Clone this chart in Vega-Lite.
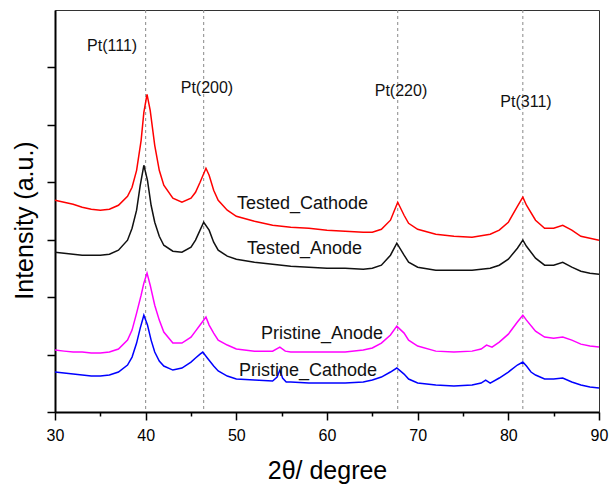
{
  "$schema": "https://vega.github.io/schema/vega-lite/v6.json",
  "width": 544,
  "height": 402,
  "autosize": "none",
  "padding": {"left": 55, "top": 10, "right": 10, "bottom": 72},
  "background": "white",
  "config": {"view": {"stroke": "#333333", "strokeWidth": 1}, "font": "Liberation Sans"},
  "datasets": {
    "xrd": [
      {"s":"Tested_Cathode","x":30,"y":1.843},{"s":"Tested_Cathode","x":31,"y":1.826},{"s":"Tested_Cathode","x":32,"y":1.809},{"s":"Tested_Cathode","x":33,"y":1.783},{"s":"Tested_Cathode","x":34,"y":1.765},{"s":"Tested_Cathode","x":35,"y":1.757},{"s":"Tested_Cathode","x":36,"y":1.765},{"s":"Tested_Cathode","x":37,"y":1.8},{"s":"Tested_Cathode","x":38,"y":1.878},{"s":"Tested_Cathode","x":38.5,"y":1.957},{"s":"Tested_Cathode","x":39,"y":2.104},{"s":"Tested_Cathode","x":39.5,"y":2.365},{"s":"Tested_Cathode","x":39.8,"y":2.609},{"s":"Tested_Cathode","x":40.15,"y":2.765},{"s":"Tested_Cathode","x":40.5,"y":2.626},{"s":"Tested_Cathode","x":41,"y":2.322},{"s":"Tested_Cathode","x":41.5,"y":2.104},{"s":"Tested_Cathode","x":42,"y":1.974},{"s":"Tested_Cathode","x":43,"y":1.861},{"s":"Tested_Cathode","x":44,"y":1.826},{"s":"Tested_Cathode","x":45,"y":1.861},{"s":"Tested_Cathode","x":45.5,"y":1.913},{"s":"Tested_Cathode","x":46,"y":2.0},{"s":"Tested_Cathode","x":46.65,"y":2.122},{"s":"Tested_Cathode","x":47,"y":2.061},{"s":"Tested_Cathode","x":47.5,"y":1.93},{"s":"Tested_Cathode","x":48,"y":1.843},{"s":"Tested_Cathode","x":49,"y":1.757},{"s":"Tested_Cathode","x":50,"y":1.704},{"s":"Tested_Cathode","x":52,"y":1.661},{"s":"Tested_Cathode","x":54,"y":1.626},{"s":"Tested_Cathode","x":56,"y":1.609},{"s":"Tested_Cathode","x":58,"y":1.6},{"s":"Tested_Cathode","x":60,"y":1.583},{"s":"Tested_Cathode","x":62,"y":1.574},{"s":"Tested_Cathode","x":64,"y":1.565},{"s":"Tested_Cathode","x":65,"y":1.565},{"s":"Tested_Cathode","x":66,"y":1.591},{"s":"Tested_Cathode","x":67,"y":1.67},{"s":"Tested_Cathode","x":67.8,"y":1.826},{"s":"Tested_Cathode","x":68.5,"y":1.713},{"s":"Tested_Cathode","x":69,"y":1.643},{"s":"Tested_Cathode","x":70,"y":1.591},{"s":"Tested_Cathode","x":72,"y":1.548},{"s":"Tested_Cathode","x":74,"y":1.53},{"s":"Tested_Cathode","x":76,"y":1.522},{"s":"Tested_Cathode","x":78,"y":1.548},{"s":"Tested_Cathode","x":79,"y":1.583},{"s":"Tested_Cathode","x":80,"y":1.652},{"s":"Tested_Cathode","x":81,"y":1.791},{"s":"Tested_Cathode","x":81.6,"y":1.87},{"s":"Tested_Cathode","x":82,"y":1.8},{"s":"Tested_Cathode","x":83,"y":1.67},{"s":"Tested_Cathode","x":84,"y":1.6},{"s":"Tested_Cathode","x":85,"y":1.6},{"s":"Tested_Cathode","x":86,"y":1.626},{"s":"Tested_Cathode","x":87,"y":1.583},{"s":"Tested_Cathode","x":88,"y":1.53},{"s":"Tested_Cathode","x":89,"y":1.513},{"s":"Tested_Cathode","x":90,"y":1.496},
      {"s":"Tested_Anode","x":30,"y":1.391},{"s":"Tested_Anode","x":31,"y":1.383},{"s":"Tested_Anode","x":32,"y":1.374},{"s":"Tested_Anode","x":33,"y":1.365},{"s":"Tested_Anode","x":34,"y":1.365},{"s":"Tested_Anode","x":35,"y":1.365},{"s":"Tested_Anode","x":36,"y":1.374},{"s":"Tested_Anode","x":37,"y":1.409},{"s":"Tested_Anode","x":38,"y":1.496},{"s":"Tested_Anode","x":38.5,"y":1.6},{"s":"Tested_Anode","x":39,"y":1.757},{"s":"Tested_Anode","x":39.4,"y":1.974},{"s":"Tested_Anode","x":39.8,"y":2.148},{"s":"Tested_Anode","x":40.2,"y":2.017},{"s":"Tested_Anode","x":40.6,"y":1.8},{"s":"Tested_Anode","x":41,"y":1.652},{"s":"Tested_Anode","x":41.5,"y":1.53},{"s":"Tested_Anode","x":42,"y":1.452},{"s":"Tested_Anode","x":43,"y":1.4},{"s":"Tested_Anode","x":44,"y":1.391},{"s":"Tested_Anode","x":45,"y":1.435},{"s":"Tested_Anode","x":45.5,"y":1.496},{"s":"Tested_Anode","x":46,"y":1.583},{"s":"Tested_Anode","x":46.4,"y":1.652},{"s":"Tested_Anode","x":47,"y":1.583},{"s":"Tested_Anode","x":47.5,"y":1.478},{"s":"Tested_Anode","x":48,"y":1.409},{"s":"Tested_Anode","x":49,"y":1.357},{"s":"Tested_Anode","x":50,"y":1.33},{"s":"Tested_Anode","x":52,"y":1.304},{"s":"Tested_Anode","x":54,"y":1.287},{"s":"Tested_Anode","x":56,"y":1.27},{"s":"Tested_Anode","x":58,"y":1.261},{"s":"Tested_Anode","x":60,"y":1.252},{"s":"Tested_Anode","x":62,"y":1.252},{"s":"Tested_Anode","x":64,"y":1.243},{"s":"Tested_Anode","x":65,"y":1.252},{"s":"Tested_Anode","x":66,"y":1.278},{"s":"Tested_Anode","x":67,"y":1.365},{"s":"Tested_Anode","x":67.7,"y":1.47},{"s":"Tested_Anode","x":68.5,"y":1.365},{"s":"Tested_Anode","x":69,"y":1.304},{"s":"Tested_Anode","x":70,"y":1.261},{"s":"Tested_Anode","x":72,"y":1.235},{"s":"Tested_Anode","x":74,"y":1.235},{"s":"Tested_Anode","x":76,"y":1.235},{"s":"Tested_Anode","x":78,"y":1.252},{"s":"Tested_Anode","x":79,"y":1.278},{"s":"Tested_Anode","x":80,"y":1.33},{"s":"Tested_Anode","x":81,"y":1.426},{"s":"Tested_Anode","x":81.6,"y":1.496},{"s":"Tested_Anode","x":82,"y":1.443},{"s":"Tested_Anode","x":83,"y":1.339},{"s":"Tested_Anode","x":84,"y":1.278},{"s":"Tested_Anode","x":85,"y":1.278},{"s":"Tested_Anode","x":86,"y":1.304},{"s":"Tested_Anode","x":87,"y":1.261},{"s":"Tested_Anode","x":88,"y":1.226},{"s":"Tested_Anode","x":89,"y":1.209},{"s":"Tested_Anode","x":90,"y":1.2},
      {"s":"Pristine_Anode","x":30,"y":0.539},{"s":"Pristine_Anode","x":31,"y":0.53},{"s":"Pristine_Anode","x":32,"y":0.522},{"s":"Pristine_Anode","x":33,"y":0.522},{"s":"Pristine_Anode","x":34,"y":0.513},{"s":"Pristine_Anode","x":35,"y":0.513},{"s":"Pristine_Anode","x":36,"y":0.522},{"s":"Pristine_Anode","x":37,"y":0.548},{"s":"Pristine_Anode","x":38,"y":0.626},{"s":"Pristine_Anode","x":38.5,"y":0.713},{"s":"Pristine_Anode","x":39,"y":0.861},{"s":"Pristine_Anode","x":39.5,"y":1.017},{"s":"Pristine_Anode","x":39.8,"y":1.122},{"s":"Pristine_Anode","x":40.15,"y":1.209},{"s":"Pristine_Anode","x":40.5,"y":1.104},{"s":"Pristine_Anode","x":41,"y":0.93},{"s":"Pristine_Anode","x":41.5,"y":0.8},{"s":"Pristine_Anode","x":42,"y":0.696},{"s":"Pristine_Anode","x":43,"y":0.6},{"s":"Pristine_Anode","x":44,"y":0.6},{"s":"Pristine_Anode","x":45,"y":0.652},{"s":"Pristine_Anode","x":45.5,"y":0.704},{"s":"Pristine_Anode","x":46,"y":0.757},{"s":"Pristine_Anode","x":46.65,"y":0.826},{"s":"Pristine_Anode","x":47,"y":0.757},{"s":"Pristine_Anode","x":47.5,"y":0.687},{"s":"Pristine_Anode","x":48,"y":0.626},{"s":"Pristine_Anode","x":49,"y":0.583},{"s":"Pristine_Anode","x":50,"y":0.548},{"s":"Pristine_Anode","x":52,"y":0.53},{"s":"Pristine_Anode","x":54,"y":0.53},{"s":"Pristine_Anode","x":54.8,"y":0.565},{"s":"Pristine_Anode","x":55.4,"y":0.53},{"s":"Pristine_Anode","x":56,"y":0.522},{"s":"Pristine_Anode","x":58,"y":0.522},{"s":"Pristine_Anode","x":60,"y":0.522},{"s":"Pristine_Anode","x":62,"y":0.522},{"s":"Pristine_Anode","x":64,"y":0.539},{"s":"Pristine_Anode","x":65,"y":0.557},{"s":"Pristine_Anode","x":66,"y":0.6},{"s":"Pristine_Anode","x":67,"y":0.67},{"s":"Pristine_Anode","x":67.7,"y":0.748},{"s":"Pristine_Anode","x":68.5,"y":0.687},{"s":"Pristine_Anode","x":69,"y":0.626},{"s":"Pristine_Anode","x":70,"y":0.574},{"s":"Pristine_Anode","x":72,"y":0.53},{"s":"Pristine_Anode","x":74,"y":0.522},{"s":"Pristine_Anode","x":76,"y":0.53},{"s":"Pristine_Anode","x":77,"y":0.548},{"s":"Pristine_Anode","x":77.6,"y":0.583},{"s":"Pristine_Anode","x":78.2,"y":0.565},{"s":"Pristine_Anode","x":79,"y":0.609},{"s":"Pristine_Anode","x":80,"y":0.678},{"s":"Pristine_Anode","x":81,"y":0.783},{"s":"Pristine_Anode","x":81.6,"y":0.843},{"s":"Pristine_Anode","x":82,"y":0.8},{"s":"Pristine_Anode","x":83,"y":0.704},{"s":"Pristine_Anode","x":84,"y":0.652},{"s":"Pristine_Anode","x":85,"y":0.643},{"s":"Pristine_Anode","x":86,"y":0.652},{"s":"Pristine_Anode","x":87,"y":0.626},{"s":"Pristine_Anode","x":88,"y":0.591},{"s":"Pristine_Anode","x":89,"y":0.574},{"s":"Pristine_Anode","x":90,"y":0.565},
      {"s":"Pristine_Cathode","x":30,"y":0.348},{"s":"Pristine_Cathode","x":31,"y":0.339},{"s":"Pristine_Cathode","x":32,"y":0.33},{"s":"Pristine_Cathode","x":33,"y":0.322},{"s":"Pristine_Cathode","x":34,"y":0.313},{"s":"Pristine_Cathode","x":35,"y":0.313},{"s":"Pristine_Cathode","x":36,"y":0.322},{"s":"Pristine_Cathode","x":37,"y":0.348},{"s":"Pristine_Cathode","x":38,"y":0.409},{"s":"Pristine_Cathode","x":38.5,"y":0.478},{"s":"Pristine_Cathode","x":39,"y":0.6},{"s":"Pristine_Cathode","x":39.4,"y":0.73},{"s":"Pristine_Cathode","x":39.8,"y":0.843},{"s":"Pristine_Cathode","x":40.2,"y":0.757},{"s":"Pristine_Cathode","x":40.6,"y":0.626},{"s":"Pristine_Cathode","x":41,"y":0.522},{"s":"Pristine_Cathode","x":41.5,"y":0.443},{"s":"Pristine_Cathode","x":42,"y":0.4},{"s":"Pristine_Cathode","x":43,"y":0.365},{"s":"Pristine_Cathode","x":44,"y":0.383},{"s":"Pristine_Cathode","x":45,"y":0.435},{"s":"Pristine_Cathode","x":45.5,"y":0.47},{"s":"Pristine_Cathode","x":46,"y":0.504},{"s":"Pristine_Cathode","x":46.3,"y":0.522},{"s":"Pristine_Cathode","x":46.8,"y":0.47},{"s":"Pristine_Cathode","x":47.5,"y":0.4},{"s":"Pristine_Cathode","x":48,"y":0.357},{"s":"Pristine_Cathode","x":49,"y":0.313},{"s":"Pristine_Cathode","x":50,"y":0.287},{"s":"Pristine_Cathode","x":52,"y":0.278},{"s":"Pristine_Cathode","x":54,"y":0.27},{"s":"Pristine_Cathode","x":54.5,"y":0.304},{"s":"Pristine_Cathode","x":54.8,"y":0.365},{"s":"Pristine_Cathode","x":55.1,"y":0.296},{"s":"Pristine_Cathode","x":55.5,"y":0.261},{"s":"Pristine_Cathode","x":56,"y":0.261},{"s":"Pristine_Cathode","x":58,"y":0.252},{"s":"Pristine_Cathode","x":60,"y":0.252},{"s":"Pristine_Cathode","x":62,"y":0.252},{"s":"Pristine_Cathode","x":64,"y":0.261},{"s":"Pristine_Cathode","x":65,"y":0.278},{"s":"Pristine_Cathode","x":66,"y":0.304},{"s":"Pristine_Cathode","x":67,"y":0.348},{"s":"Pristine_Cathode","x":67.7,"y":0.383},{"s":"Pristine_Cathode","x":68.5,"y":0.33},{"s":"Pristine_Cathode","x":69,"y":0.287},{"s":"Pristine_Cathode","x":70,"y":0.252},{"s":"Pristine_Cathode","x":72,"y":0.235},{"s":"Pristine_Cathode","x":74,"y":0.226},{"s":"Pristine_Cathode","x":76,"y":0.235},{"s":"Pristine_Cathode","x":77,"y":0.252},{"s":"Pristine_Cathode","x":77.5,"y":0.278},{"s":"Pristine_Cathode","x":78,"y":0.252},{"s":"Pristine_Cathode","x":79,"y":0.296},{"s":"Pristine_Cathode","x":80,"y":0.348},{"s":"Pristine_Cathode","x":81,"y":0.409},{"s":"Pristine_Cathode","x":81.6,"y":0.435},{"s":"Pristine_Cathode","x":82,"y":0.4},{"s":"Pristine_Cathode","x":82.5,"y":0.348},{"s":"Pristine_Cathode","x":83,"y":0.322},{"s":"Pristine_Cathode","x":84,"y":0.287},{"s":"Pristine_Cathode","x":85,"y":0.287},{"s":"Pristine_Cathode","x":86,"y":0.296},{"s":"Pristine_Cathode","x":87,"y":0.261},{"s":"Pristine_Cathode","x":88,"y":0.235},{"s":"Pristine_Cathode","x":89,"y":0.217},{"s":"Pristine_Cathode","x":90,"y":0.209}
    ],
    "peaks": [{"x": 40.0}, {"x": 46.4}, {"x": 67.8}, {"x": 81.6}],
    "peakLabels": [
      {"x": 36.3, "y": 3.19, "label": "Pt(111)"},
      {"x": 46.76, "y": 2.817, "label": "Pt(200)"},
      {"x": 68.16, "y": 2.791, "label": "Pt(220)"},
      {"x": 81.95, "y": 2.696, "label": "Pt(311)"}
    ],
    "curveLabels": [
      {"x": 50.07, "y": 1.809, "label": "Tested_Cathode"},
      {"x": 51.18, "y": 1.417, "label": "Tested_Anode"},
      {"x": 52.72, "y": 0.678, "label": "Pristine_Anode"},
      {"x": 50.29, "y": 0.357, "label": "Pristine_Cathode"}
    ]
  },
  "encoding": {
    "x": {
      "field": "x", "type": "quantitative",
      "scale": {"domain": [30, 90], "nice": false, "zero": false},
      "axis": {
        "title": "2θ/ degree",
        "values": [30, 35, 40, 45, 50, 55, 60, 65, 70, 75, 80, 85, 90],
        "labelExpr": "datum.value % 10 === 0 ? datum.label : ''",
        "labelFlush": false,
        "tickSize": {"condition": {"test": "datum.value % 10 === 0", "value": 8}, "value": 4},
        "tickColor": "black", "tickWidth": 1.5,
        "domainColor": "black", "domainWidth": 2,
        "labelFontSize": 16, "labelColor": "black", "labelPadding": 7,
        "labelFont": "Liberation Sans",
        "grid": false,
        "titleFontSize": 25, "titleFontWeight": "normal", "titleColor": "black",
        "titleFont": "Liberation Sans",
        "titleX": 272, "titleY": 66, "titleAlign": "center", "titleBaseline": "alphabetic"
      }
    }
  },
  "layer": [
    {
      "data": {"name": "peaks"},
      "mark": {"type": "rule", "strokeDash": [3, 3], "color": "#888888", "strokeWidth": 1},
      "encoding": {}
    },
    {
      "data": {"name": "xrd"},
      "mark": {"type": "line", "strokeWidth": 1.5},
      "encoding": {
        "y": {
          "field": "y", "type": "quantitative",
          "scale": {"domain": [0, 3.5], "nice": false, "zero": false},
          "axis": {
            "title": "Intensity (a.u.)",
            "values": [0, 0.5, 1, 1.5, 2, 2.5, 3],
            "labels": false,
            "tickSize": 8, "tickColor": "black", "tickWidth": 1.5,
            "domainColor": "black", "domainWidth": 2,
            "grid": false,
            "titleFontSize": 25, "titleFontWeight": "normal", "titleColor": "black",
            "titleFont": "Liberation Sans",
            "titleAngle": -90, "titleX": -23, "titleY": 210, "titleAlign": "center", "titleBaseline": "alphabetic"
          }
        },
        "color": {
          "field": "s", "type": "nominal",
          "scale": {"domain": ["Tested_Cathode", "Tested_Anode", "Pristine_Anode", "Pristine_Cathode"], "range": ["#ff0000", "#111111", "#ff00ff", "#0000ff"]},
          "legend": null
        }
      }
    },
    {
      "data": {"name": "peakLabels"},
      "mark": {"type": "text", "fontSize": 16, "align": "center", "baseline": "middle", "color": "#111111", "font": "Liberation Sans"},
      "encoding": {"y": {"field": "y", "type": "quantitative", "title": "Intensity (a.u.)"}, "text": {"field": "label"}}
    },
    {
      "data": {"name": "curveLabels"},
      "mark": {"type": "text", "fontSize": 18, "align": "left", "baseline": "middle", "color": "#111111", "font": "Liberation Sans"},
      "encoding": {"y": {"field": "y", "type": "quantitative", "title": "Intensity (a.u.)"}, "text": {"field": "label"}}
    }
  ]
}
